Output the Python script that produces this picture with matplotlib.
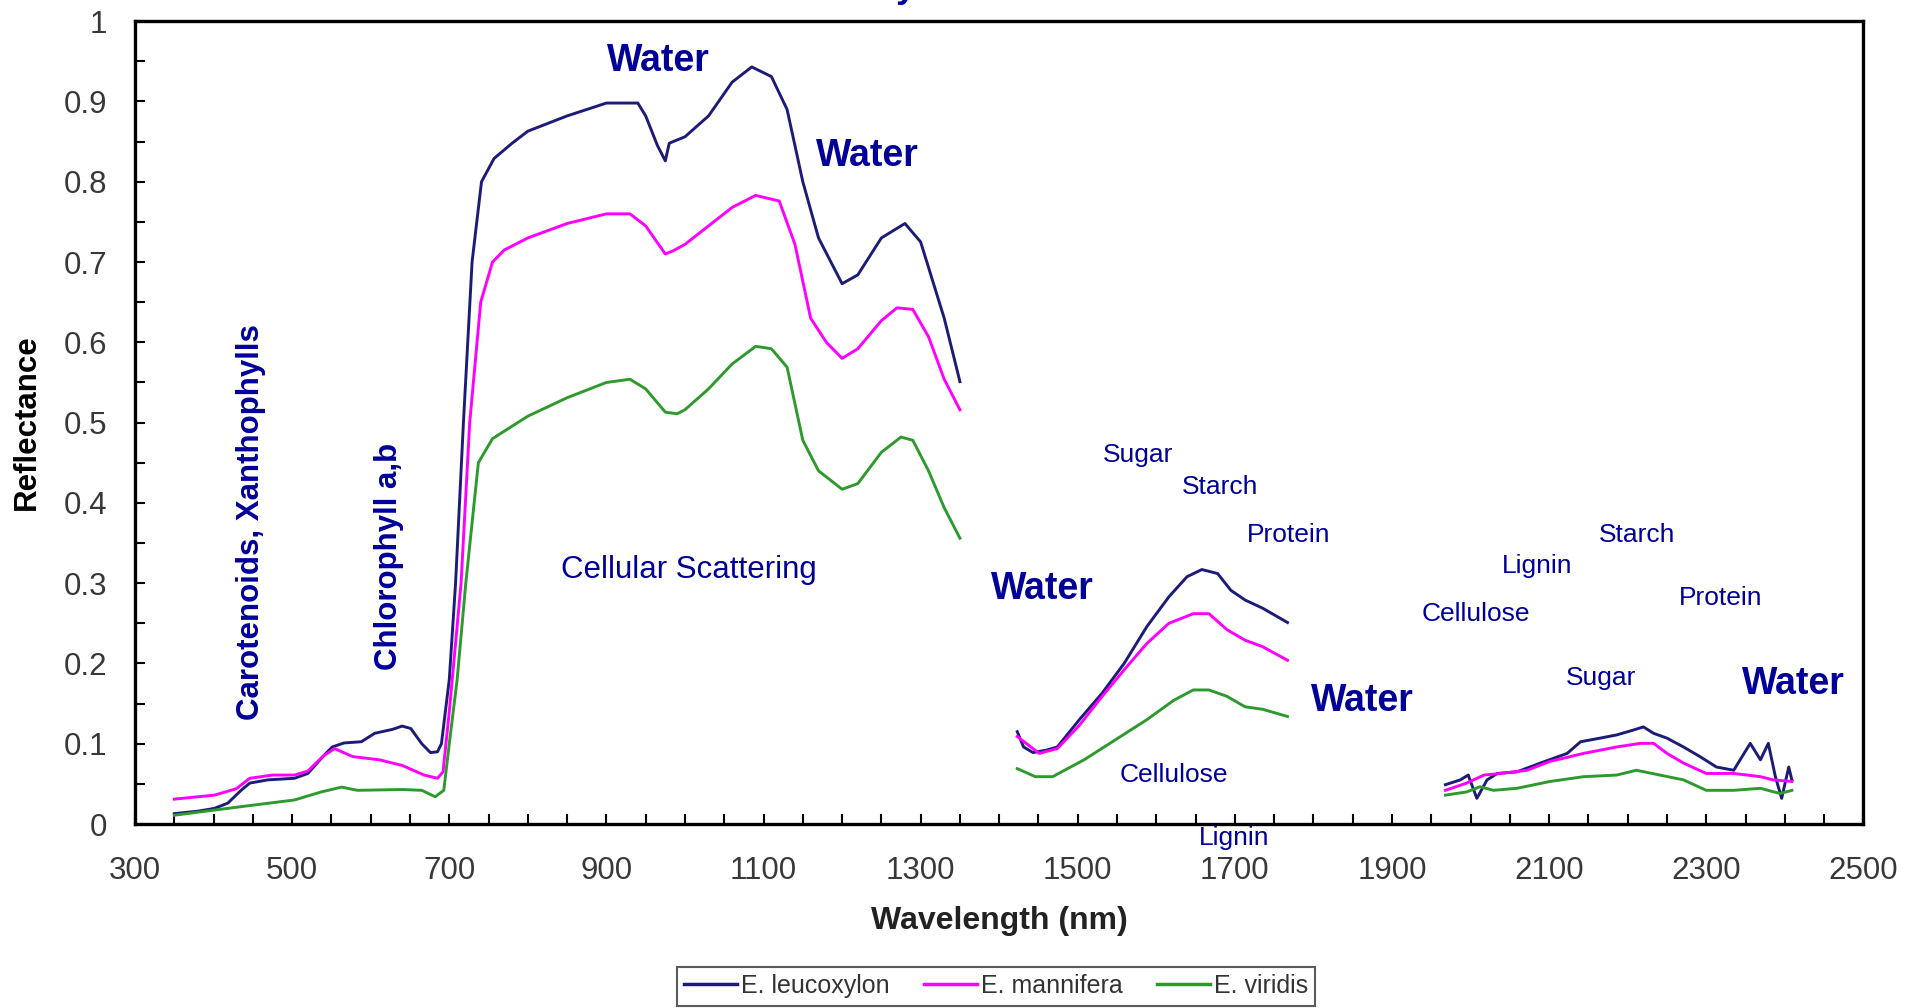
import numpy as np
import matplotlib
matplotlib.use("Agg")
import matplotlib.pyplot as plt
from matplotlib.ticker import MultipleLocator

nan = np.nan

# E. leucoxylon (segments split by nan)
leu_wl = [350, 380, 401, 418, 435, 446, 469, 503, 520, 540, 551, 566, 588, 605, 628, 640, 651, 665, 676, 685,
          690, 700, 708, 718, 729, 741, 757, 780, 800, 850, 900, 940, 950, 965, 975, 980, 1000, 1030, 1060, 1085,
          1110, 1130, 1150, 1170, 1200, 1220, 1250, 1280, 1300, 1330, 1350,
          nan,
          1423, 1431, 1443, 1460, 1474, 1502, 1531, 1559, 1588, 1616, 1639, 1658, 1678, 1695, 1713, 1735, 1767,
          nan,
          1968, 1987, 1997, 2008, 2021, 2034, 2059, 2089, 2123, 2140, 2165, 2186, 2207, 2220, 2233, 2250, 2271,
          2292, 2313, 2335, 2356, 2369, 2379, 2388, 2396, 2405, 2409]
leu_r = [.013, .016, .0195, .026, .042, .051, .055, .057, .063, .085, .096, .101, .1025, .113, .118, .122, .119, .10,
         .089, .09, .10, .18, .30, .50, .70, .80, .829, .848, .863, .882, .898, .898, .882, .845, .826, .848, .856,
         .882, .924, .943, .931, .89, .80, .73, .673, .684, .73, .748, .725, .63, .551,
         nan,
         .115, .096, .089, .092, .096, .13, .163, .20, .246, .283, .308, .317, .312, .291, .279, .269, .251,
         nan,
         .049, .055, .061, .032, .055, .063, .065, .076, .088, .1025, .107, .111, .117, .121, .113, .107, .096,
         .084, .071, .067, .1005, .080, .1005, .059, .032, .071, .055]

# E. mannifera
man_wl = [350, 401, 429, 446, 475, 503, 520, 540, 554, 577, 611, 640, 668, 685, 692, 700, 715, 726, 740, 755, 770,
          800, 850, 900, 930, 950, 975, 985, 1000, 1030, 1060, 1090, 1120, 1140, 1160, 1180, 1200, 1220, 1250, 1270,
          1290, 1310, 1330, 1350,
          nan,
          1423, 1451, 1474, 1502, 1531, 1559, 1588, 1616, 1647, 1667, 1690, 1713, 1735, 1767,
          nan,
          1968, 1995, 2017, 2038, 2072, 2101, 2144, 2186, 2216, 2233, 2250, 2271, 2300, 2335, 2369, 2385, 2409]
man_r = [.031, .036, .044, .057, .061, .061, .066, .085, .094, .084, .080, .073, .061, .057, .065, .14, .30, .50,
         .65, .70, .715, .73, .748, .76, .76, .745, .71, .714, .722, .745, .768, .783, .776, .722, .63, .60, .58,
         .592, .627, .643, .641, .607, .554, .516,
         nan,
         .109, .088, .094, .123, .159, .192, .225, .25, .262, .262, .242, .229, .221, .204,
         nan,
         .042, .051, .061, .063, .067, .078, .088, .096, .1005, .1005, .088, .076, .063, .063, .059, .055, .053]

# E. viridis
vir_wl = [350, 441, 503, 537, 563, 583, 640, 665, 682, 693, 700, 710, 721, 737, 755, 800, 850, 900, 930, 950, 975,
          990, 1000, 1030, 1060, 1090, 1110, 1130, 1150, 1170, 1200, 1220, 1250, 1275, 1290, 1310, 1330, 1350,
          nan,
          1423, 1446, 1468, 1508, 1548, 1588, 1622, 1647, 1667, 1690, 1713, 1735, 1767,
          nan,
          1968, 1995, 2012, 2029, 2059, 2101, 2144, 2186, 2211, 2241, 2271, 2300, 2335, 2369, 2394, 2409]
vir_r = [.011, .0224, .030, .040, .046, .042, .043, .042, .034, .042, .10, .18, .30, .45, .48, .508, .531, .55,
         .554, .542, .513, .511, .516, .542, .573, .595, .592, .569, .478, .44, .417, .424, .463, .482, .478, .44,
         .394, .356,
         nan,
         .069, .059, .059, .080, .105, .13, .154, .167, .167, .159, .146, .143, .134,
         nan,
         .036, .040, .0465, .042, .0445, .053, .059, .061, .067, .061, .055, .042, .042, .0445, .038, .042]

series_names = ["E. leucoxylon", "E. mannifera", "E. viridis"]
series_colors = ["#1c1c78", "#ff00ff", "#2e9a2e"]

x_ticks = list(range(300, 2501, 200))
y_ticks = [0, 0.1, 0.2, 0.3, 0.4, 0.5, 0.6, 0.7, 0.8, 0.9, 1]
y_ticklabels = ["0", "0.1", "0.2", "0.3", "0.4", "0.5", "0.6", "0.7", "0.8", "0.9", "1"]

# annotations: (text, wavelength, reflectance)
bold_labels = [("Water", 966, 0.951), ("Water", 1232, 0.832), ("Water", 1455, 0.293),
               ("Water", 1862, 0.153), ("Water", 2411, 0.174)]
plain_labels = [("Sugar", 1577, 0.46), ("Starch", 1681, 0.42), ("Protein", 1769, 0.36),
                ("Cellulose", 1622, 0.061), ("Lignin", 1699, -0.018),
                ("Cellulose", 2007, 0.261), ("Lignin", 2085, 0.321), ("Starch", 2212, 0.36),
                ("Protein", 2318, 0.281), ("Sugar", 2166, 0.182)]
rot_labels = [("Carotenoids, Xanthophylls", 447, 0.376), ("Chlorophyll a,b", 623, 0.333)]

plt.rcParams['font.family'] = ['Liberation Sans', 'DejaVu Sans']
txt_col = "#000099"

fig = plt.figure(figsize=(19.21, 10.08), dpi=100)
ax = fig.add_axes([0.0703, 0.1825, 0.8997, 0.7965])

for wl, r, name, c in zip([leu_wl, man_wl, vir_wl], [leu_r, man_r, vir_r], series_names, series_colors):
    ax.plot(wl, r, color=c, lw=2.1, label=name)

ax.set_xlim(300, 2500)
ax.set_ylim(0, 1)
ax.set_xticks(x_ticks)
ax.xaxis.set_minor_locator(MultipleLocator(50))
ax.set_yticks(y_ticks)
ax.set_yticklabels(y_ticklabels)
ax.yaxis.set_minor_locator(MultipleLocator(0.05))
ax.tick_params(which='both', direction='in', length=7, width=1.5, colors='black',
               labelcolor='#383838', labelsize=22.5, top=False, right=False)
ax.tick_params(axis='x', pad=23)
ax.tick_params(axis='y', pad=20)
for s in ax.spines.values():
    s.set_linewidth(2.4)

ax.set_xlabel("Wavelength (nm)", fontsize=23, fontweight='bold', color='#222222')
ax.set_ylabel("Reflectance", fontsize=22.5, fontweight='bold', color='black')
ax.xaxis.set_label_coords(0.5, -0.1208)
ax.xaxis.label.set_va('center')
ax.yaxis.set_label_coords(-0.0625, 0.5)
ax.yaxis.label.set_va('center')

for t, x, y in bold_labels:
    ax.text(x, y, t, color=txt_col, fontsize=27, fontweight='bold', ha='center', va='center')
for t, x, y in plain_labels:
    ax.text(x, y, t, color=txt_col, fontsize=19, ha='center', va='center', clip_on=False)
for t, x, y in rot_labels:
    ax.text(x, y, t, color=txt_col, fontsize=22.5, fontweight='bold', rotation=90,
            ha='center', va='center')
ax.text(1005, 0.316, "Cellular Scattering", color=txt_col, fontsize=22.5, ha='center', va='center')

# cut-off title remnant at the top edge
fig.text(906 / 1921, 1.0 + 3 / 1008, "y", color=txt_col, fontsize=26, fontweight='bold',
         ha='center', va='baseline')

leg = fig.legend(loc='center', bbox_to_anchor=(0.5185, 0.0218), ncol=3, fontsize=18,
                 frameon=True, fancybox=False, edgecolor='#333333', handlelength=2.1,
                 handletextpad=0.15, columnspacing=1.4, borderpad=0.3, labelcolor='#333333')
leg.get_frame().set_linewidth(1.5)
for h in leg.get_lines():
    h.set_linewidth(2.5)

fig.savefig("out.png", dpi=100)
